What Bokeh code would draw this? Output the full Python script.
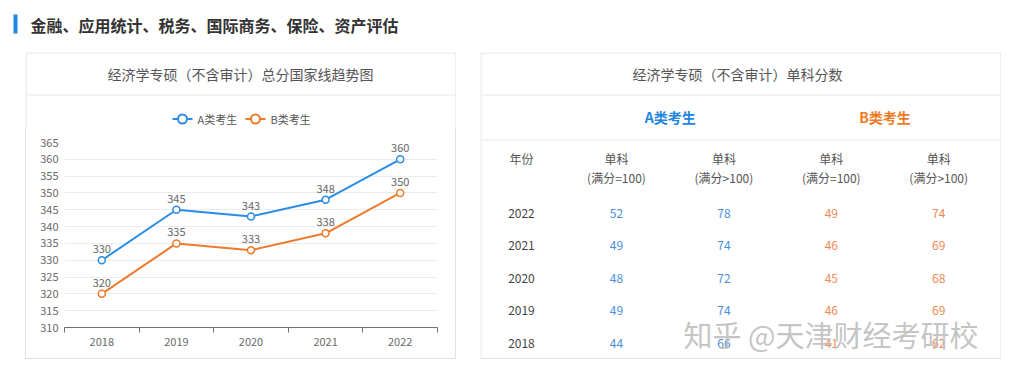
from bokeh.plotting import figure
from bokeh.models import Range1d, FixedTicker, ColumnDataSource, Spacer
from bokeh.layouts import column, row
from bokeh.embed import file_html
from bokeh.resources import INLINE
from bokeh.core.properties import value

# ---------------- data ----------------
page_title = "金融、应用统计、税务、国际商务、保险、资产评估"
chart_title = "经济学专硕（不含审计）总分国家线趋势图"
table_title = "经济学专硕（不含审计）单科分数"
series_names = ["A类考生", "B类考生"]
years = [2018, 2019, 2020, 2021, 2022]
total_a = [330, 345, 343, 348, 360]
total_b = [320, 335, 333, 338, 350]
y_ticks = [310, 315, 320, 325, 330, 335, 340, 345, 350, 355, 360, 365]

table_year_head = "年份"
table_years = ["2022", "2021", "2020", "2019", "2018"]
col_head_top = ["单科", "单科", "单科", "单科"]
col_head_bottom = ["(满分=100)", "(满分>100)", "(满分=100)", "(满分>100)"]
a_single_eq100 = [52, 49, 48, 49, 44]
a_single_gt100 = [78, 74, 72, 74, 66]
b_single_eq100 = [49, 46, 45, 46, 41]
b_single_gt100 = [74, 69, 68, 69, 62]
watermark = "知乎 @天津财经考研校"

# ---------------- style / layout ----------------
FONT = "Noto Sans CJK SC"
BLUE = "#2a8ce6"
ORANGE = "#ee7a2c"
HEAD_BLUE = "#1e86e0"
HEAD_ORANGE = "#f07a22"
VAL_BLUE = "#4a8fda"
VAL_ORANGE = "#ee8a55"
TXT = "#555555"
BORDER = "#e0e0e0"
SEP = "#e9e9e9"


def canvas_fig(w, h):
    f = figure(width=w, height=h, x_range=Range1d(0, w), y_range=Range1d(h, 0),
               output_backend="svg", toolbar_location=None,
               x_axis_location=None, y_axis_location=None, min_border=0)
    f.grid.visible = False
    f.outline_line_color = None
    f.background_fill_color = "white"
    f.border_fill_color = "white"
    return f


def txt(f, x, y, s, size, color, style="normal", align="center", **kw):
    f.text(x=[x], y=[y], text=[s], text_font=value(FONT), text_font_size=size,
           text_color=color, text_font_style=style, text_align=align,
           text_baseline="middle", **kw)


# ---------------- header ----------------
head = canvas_fig(1024, 52)
head.quad(left=[13], right=[17], top=[14], bottom=[33], fill_color="#1e88e5", line_color=None)
txt(head, 30, 24.5, page_title, "16px", "#333333", "bold", "left")

# ---------------- left panel: top part ----------------
LW = 431
ltop = canvas_fig(LW, 76)
ltop.line(x=[0.5, 0.5, LW - 0.5, LW - 0.5], y=[76, 0.5, 0.5, 76], line_color=BORDER, line_width=1)
ltop.line(x=[1, LW - 1], y=[42.5, 42.5], line_color=SEP, line_width=1)
txt(ltop, 215, 21, chart_title, "14px", TXT)
for name, color, x0 in zip(series_names, [BLUE, ORANGE], [147, 220]):
    ltop.line(x=[x0, x0 + 20], y=[66.5, 66.5], line_color=color, line_width=2)
    ltop.scatter(x=[x0 + 10], y=[66.5], marker="circle", size=9, fill_color="white",
                 line_color=color, line_width=2)
    txt(ltop, x0 + 25, 66.5, name, "11px", TXT, align="left")

# ---------------- left panel: chart ----------------
CW, CH = 429, 230
lchart = figure(width=CW, height=CH,
                x_range=Range1d(years[0] - 0.5, years[-1] + 0.5),
                y_range=Range1d(y_ticks[0], y_ticks[-1]),
                output_backend="svg", toolbar_location=None,
                min_border_left=38, min_border_right=18,
                min_border_top=14, min_border_bottom=31)
lchart.background_fill_color = "white"
lchart.border_fill_color = "white"
lchart.outline_line_color = None

xa = lchart.xaxis[0]
xa.ticker = FixedTicker(ticks=years, minor_ticks=[y - 0.5 for y in years] + [years[-1] + 0.5])
xa.major_tick_line_color = None
xa.major_tick_out = 0
xa.major_tick_in = 0
xa.minor_tick_line_color = "#707070"
xa.minor_tick_out = 5
xa.minor_tick_in = 0
xa.axis_line_color = "#707070"
xa.major_label_standoff = 5
xa.major_label_text_font = FONT
xa.major_label_text_font_size = "11px"
xa.major_label_text_color = "#6a6a6a"

ya = lchart.yaxis[0]
ya.ticker = FixedTicker(ticks=y_ticks)
ya.axis_line_color = None
ya.major_tick_line_color = None
ya.major_tick_out = 0
ya.major_tick_in = 0
ya.minor_tick_line_color = None
ya.major_label_standoff = 6
ya.major_label_text_font = FONT
ya.major_label_text_font_size = "11px"
ya.major_label_text_color = "#6a6a6a"

lchart.xgrid.grid_line_color = None
lchart.ygrid.ticker = FixedTicker(ticks=y_ticks)
lchart.ygrid.grid_line_color = "#ececec"

src = ColumnDataSource(dict(year=years, a=total_a, b=total_b,
                            a_txt=[str(v) for v in total_a], b_txt=[str(v) for v in total_b]))
for col, color in (("a", BLUE), ("b", ORANGE)):
    lchart.line("year", col, source=src, line_color=color, line_width=2)
    lchart.scatter("year", col, source=src, marker="circle", size=7, fill_color="white",
                   line_color=color, line_width=1.5)
    lchart.text(x="year", y=col, text=col + "_txt", source=src, text_align="center",
                text_baseline="bottom", y_offset=-7, text_font=value(FONT),
                text_font_size="11px", text_color="#666666")

vl = Spacer(width=1, height=CH, styles={"background-color": BORDER})
vr = Spacer(width=1, height=CH, styles={"background-color": BORDER})
hb = Spacer(width=LW, height=1, styles={"background-color": BORDER})
left_panel = column(ltop, row(vl, lchart, vr), hb)

# ---------------- right panel: table ----------------
RW, RH = 521, 307
TCOL0_X, TCOL_W, YEAR_COL = 136.0, 107.4, -0.885
TROW0_Y, TROW_H = 160.5, 32.6
rp = canvas_fig(RW, RH)
rp.extra_x_ranges = {"tcol": Range1d(start=(0 - TCOL0_X) / TCOL_W, end=(RW - TCOL0_X) / TCOL_W)}
rp.extra_y_ranges = {"trow": Range1d(start=(RH - TROW0_Y) / TROW_H, end=(0 - TROW0_Y) / TROW_H)}
rp.line(x=[0.5, 0.5, RW - 0.5, RW - 0.5, 0.5], y=[0.5, RH - 1, RH - 1, 0.5, 0.5],
        line_color=BORDER, line_width=1)
rp.line(x=[1, RW - 1], y=[42.5, 42.5], line_color=SEP, line_width=1)
rp.line(x=[1, RW - 1], y=[87.5, 87.5], line_color=SEP, line_width=1)
txt(rp, 257, 21, table_title, "14px", TXT)

ncols = len(col_head_top)
rp.text(x=[0.5, 2.5], y=[64, 64], text=series_names, x_range_name="tcol",
        text_font=value(FONT), text_font_size="14px", text_font_style="bold",
        text_color=[HEAD_BLUE, HEAD_ORANGE], text_align="center", text_baseline="middle")
rp.text(x=[YEAR_COL], y=[106], text=[table_year_head], x_range_name="tcol",
        text_font=value(FONT), text_font_size="12px", text_color=TXT,
        text_align="center", text_baseline="middle")
rp.text(x=list(range(ncols)), y=[106] * ncols, text=col_head_top, x_range_name="tcol",
        text_font=value(FONT), text_font_size="12px", text_color=TXT,
        text_align="center", text_baseline="middle")
rp.text(x=list(range(ncols)), y=[125] * ncols, text=col_head_bottom, x_range_name="tcol",
        text_font=value(FONT), text_font_size="12px", text_color=TXT,
        text_align="center", text_baseline="middle")

rows = list(range(len(table_years)))
rp.text(x=[YEAR_COL] * len(rows), y=rows, text=table_years, x_range_name="tcol",
        y_range_name="trow", text_font=value(FONT), text_font_size="12px",
        text_color="#444444", text_align="center", text_baseline="middle")
for j, (vals, c) in enumerate([(a_single_eq100, VAL_BLUE), (a_single_gt100, VAL_BLUE),
                               (b_single_eq100, VAL_ORANGE), (b_single_gt100, VAL_ORANGE)]):
    rp.text(x=[j] * len(rows), y=rows, text=[str(v) for v in vals], x_range_name="tcol",
            y_range_name="trow", text_font=value(FONT), text_font_size="12px",
            text_color=c, text_align="center", text_baseline="middle")

txt(rp, 203, 281, watermark, "29px", "#bdbdbd", align="left", text_alpha=0.9)

# ---------------- page ----------------
page = column(
    head,
    row(Spacer(width=25, height=RH), left_panel, Spacer(width=24, height=RH), rp,
        Spacer(width=23, height=RH)),
    Spacer(width=1024, height=17),
)

open("out.html", "w").write(file_html(page, INLINE))
